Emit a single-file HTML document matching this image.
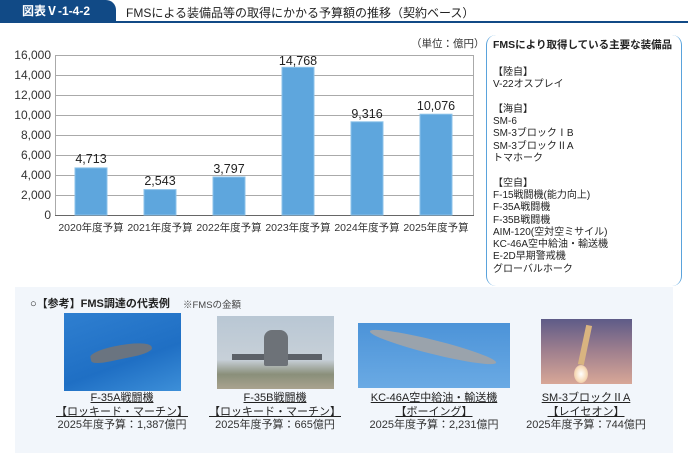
<!DOCTYPE html>
<html><head><meta charset="utf-8"><style>
*{margin:0;padding:0;box-sizing:border-box}
body{width:688px;height:454px;background:#fff;position:relative;overflow:hidden;font-family:"Liberation Sans","Noto Sans CJK JP",sans-serif;color:#222}
.a{position:absolute;white-space:nowrap}
.cap{position:absolute;text-align:center;font-size:11px;line-height:13.5px;color:#333;width:170px}
.cap u{text-decoration:underline;color:#222}
</style></head><body>
<div class="a" style="left:0;top:0;width:116px;height:22px;background:#114a86;border-top-right-radius:10px;color:#fff;font-size:12px;font-weight:bold;line-height:22px;text-align:center;padding-right:4px">図表Ⅴ-1-4-2</div>
<div class="a" style="left:0;top:21px;width:688px;height:2px;background:#114a86"></div>
<div class="a" style="left:126px;top:4px;font-size:12px;color:#222">FMSによる装備品等の取得にかかる予算額の推移（契約ベース）</div>
<div class="a" style="left:411px;top:36px;font-size:10.5px;color:#333">（単位：億円）</div>
<svg class="a" style="left:0;top:40px" width="480" height="200">
<g font-family="Liberation Sans,sans-serif" font-size="12" fill="#333" text-anchor="end">
<text x="51" y="19">16,000</text><text x="51" y="39">14,000</text><text x="51" y="59">12,000</text><text x="51" y="79">10,000</text><text x="51" y="99">8,000</text><text x="51" y="119">6,000</text><text x="51" y="139">4,000</text><text x="51" y="159">2,000</text><text x="51" y="179">0</text>
</g>
<g stroke="#aaa" stroke-width="1">
<line x1="55" y1="15.5" x2="474" y2="15.5"/><line x1="55" y1="35.5" x2="474" y2="35.5"/><line x1="55" y1="55.5" x2="474" y2="55.5"/><line x1="55" y1="75.5" x2="474" y2="75.5"/><line x1="55" y1="95.5" x2="474" y2="95.5"/><line x1="55" y1="115.5" x2="474" y2="115.5"/><line x1="55" y1="135.5" x2="474" y2="135.5"/><line x1="55" y1="155.5" x2="474" y2="155.5"/>
<line x1="55.5" y1="15" x2="55.5" y2="175"/><line x1="473.5" y1="15" x2="473.5" y2="175"/>
</g>
<line x1="55" y1="175.5" x2="474" y2="175.5" stroke="#666"/>
<g fill="#5ea6dd" stroke="#8cc3ea" stroke-width="1">
<rect x="75" y="127.9" width="32" height="47.1"/>
<rect x="144" y="149.6" width="32" height="25.4"/>
<rect x="213" y="137" width="32" height="38"/>
<rect x="282" y="27.3" width="32" height="147.7"/>
<rect x="351" y="81.8" width="32" height="93.2"/>
<rect x="420" y="74.2" width="32" height="100.8"/>
</g>
<g font-family="Liberation Sans,sans-serif" font-size="12.5" fill="#222" text-anchor="middle">
<text x="91" y="123">4,713</text><text x="160" y="145">2,543</text><text x="229" y="133">3,797</text><text x="298" y="25">14,768</text><text x="367" y="78">9,316</text><text x="436" y="70">10,076</text>
</g>
<g font-family="Liberation Sans,Noto Sans CJK JP,sans-serif" font-size="10.5" fill="#333" text-anchor="middle">
<text x="91" y="191">2020年度予算</text><text x="160" y="191">2021年度予算</text><text x="229" y="191">2022年度予算</text><text x="298" y="191">2023年度予算</text><text x="367" y="191">2024年度予算</text><text x="436" y="191">2025年度予算</text>
</g>
</svg>
<div class="a" style="left:486px;top:35px;width:196px;height:251px;border:1.5px solid #5aa3dc;border-top:none;border-bottom:none;border-radius:10px"></div>
<div class="a" style="left:493px;top:39px;font-size:10.5px;line-height:13px;color:#222;font-weight:bold">FMSにより取得している主要な装備品</div>
<div class="a" style="left:493px;top:67px;font-size:10px;line-height:12.3px;color:#222">【陸自】<br>V-22オスプレイ<br><br>【海自】<br>SM-6<br>SM-3ブロックⅠB<br>SM-3ブロックⅡA<br>トマホーク<br><br>【空自】<br>F-15戦闘機(能力向上)<br>F-35A戦闘機<br>F-35B戦闘機<br>AIM-120(空対空ミサイル)<br>KC-46A空中給油・輸送機<br>E-2D早期警戒機<br>グローバルホーク</div>
<div class="a" style="left:15px;top:287px;width:658px;height:166px;background:#f2f6fb"></div>
<div class="a" style="left:30px;top:295px;font-size:11px;font-weight:bold;color:#222">○【参考】FMS調達の代表例</div>
<div class="a" style="left:183px;top:297px;font-size:9.5px;color:#444">※FMSの金額</div>
<div class="a" style="left:64px;top:313px;width:117px;height:78px;background:linear-gradient(160deg,#2f7fd0,#1f6fc4 60%,#3d8fd8)"></div>
<div class="a" style="left:90px;top:345px;width:62px;height:14px;background:#6a7480;transform:rotate(-12deg);border-radius:40% 60% 30% 30%"></div>
<div class="a" style="left:217px;top:316px;width:117px;height:73px;background:linear-gradient(180deg,#b9c7d4,#c7d0d8 60%,#8a8f7a 80%,#a9a38f)"></div>
<div class="a" style="left:232px;top:354px;width:90px;height:6px;background:#5c6168"></div>
<div class="a" style="left:264px;top:330px;width:24px;height:36px;background:#6d7278;border-radius:8px 8px 2px 2px"></div>
<div class="a" style="left:358px;top:323px;width:152px;height:65px;background:linear-gradient(180deg,#4c93d8,#6aaae4)"></div>
<div class="a" style="left:368px;top:340px;width:130px;height:14px;background:#9aa3ac;transform:rotate(14deg);border-radius:50%"></div>
<div class="a" style="left:541px;top:319px;width:91px;height:65px;background:linear-gradient(180deg,#5e5b88,#a0808e 50%,#d8a797)"></div>
<div class="a" style="left:582px;top:325px;width:6px;height:40px;background:#d9b480;transform:rotate(12deg)"></div>
<div class="a" style="left:574px;top:365px;width:14px;height:18px;background:radial-gradient(#fff,#f7d9b5 60%,transparent);border-radius:50%"></div>
<div class="cap" style="left:37px;top:392px"><u>F-35A戦闘機<br>【ロッキード・マーチン】</u><br>2025年度予算：1,387億円</div>
<div class="cap" style="left:190px;top:392px"><u>F-35B戦闘機<br>【ロッキード・マーチン】</u><br>2025年度予算：665億円</div>
<div class="cap" style="left:349px;top:392px"><u>KC-46A空中給油・輸送機<br>【ボーイング】</u><br>2025年度予算：2,231億円</div>
<div class="cap" style="left:501px;top:392px"><u>SM-3ブロックⅡA<br>【レイセオン】</u><br>2025年度予算：744億円</div>
</body></html>
